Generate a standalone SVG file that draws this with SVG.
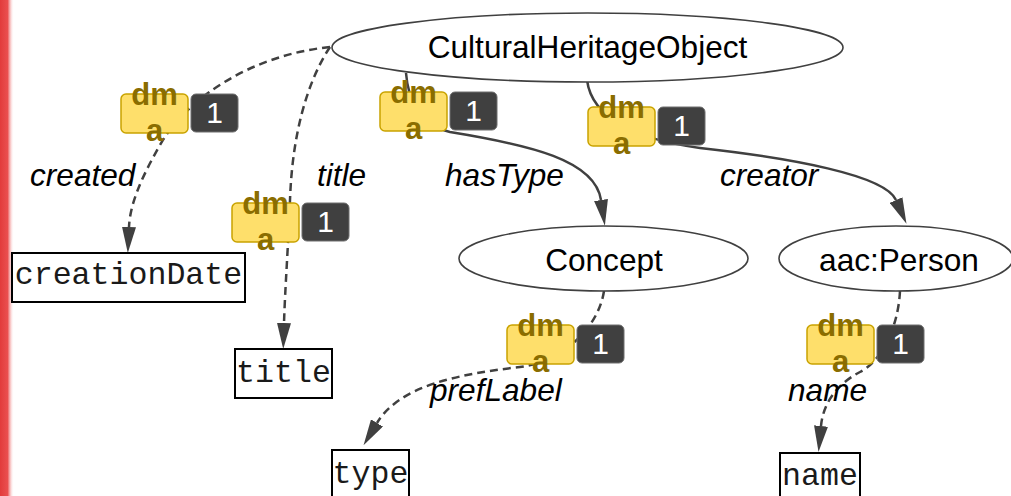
<svg xmlns="http://www.w3.org/2000/svg" width="1011" height="496" viewBox="0 0 1011 496">
<defs>
  <linearGradient id="stripe" x1="0" y1="0" x2="1" y2="0">
    <stop offset="0" stop-color="#e23b3b"/>
    <stop offset="0.55" stop-color="#ea4f4f"/>
    <stop offset="1" stop-color="#ffffff" stop-opacity="0"/>
  </linearGradient>
  <marker id="arrow" viewBox="0 0 26 14" refX="0" refY="7" markerWidth="26" markerHeight="14" markerUnits="userSpaceOnUse" orient="auto">
    <path d="M0,0 L26,7 L0,14 Z" fill="#404040"/>
  </marker>
  <g id="badge">
    <rect x="0" y="0" width="67" height="39" rx="5" fill="#fedf6b" stroke="#c9a300" stroke-width="1.5"/>
    <rect x="70" y="0" width="47" height="38" rx="5" fill="#404040" stroke="#6e6e6e" stroke-width="1"/>
    <text class="bt" x="33.5" y="11">dm</text>
    <text class="bt" x="33.5" y="47">a</text>
    <text class="one" x="93.5" y="29">1</text>
  </g>
</defs>
<style>
  .edge { fill: none; stroke: #404040; stroke-width: 2.5; }
  .dash { stroke-dasharray: 8 5; }
  .ell { fill: #ffffff; stroke: #404040; stroke-width: 1.6; }
  .box { fill: #ffffff; stroke: #000000; stroke-width: 2; }
  .ntext { font-family: "Liberation Sans", Arial, sans-serif; font-size: 31.6px; fill: #000000; text-anchor: middle; }
  .mono { font-family: "Liberation Mono", "Courier New", monospace; font-size: 31.6px; fill: #1a1a1a; text-anchor: middle; }
  .lbl { font-family: "Liberation Sans", Arial, sans-serif; font-size: 31.6px; font-style: italic; fill: #000000; }
  .bt { font-family: "Liberation Sans", Arial, sans-serif; font-size: 31px; font-weight: bold; fill: #8a6d00; text-anchor: middle; }
  .one { font-family: "Liberation Sans", Arial, sans-serif; font-size: 30px; fill: #ffffff; text-anchor: middle; }
</style>
<rect x="0" y="0" width="1011" height="496" fill="#ffffff"/>
<rect x="0" y="0" width="14" height="496" fill="url(#stripe)"/>

<g id="connectors">
  <path id="e-created" class="edge dash" d="M330,47 C250,55 185,100 160,145 C140,180 130,205 129,227" marker-end="url(#arrow)"/>
  <path id="e-title" class="edge dash" d="M330,47 C305,85 292,140 290,200 C288,250 285,290 284,323" marker-end="url(#arrow)"/>
  <path id="e-hasType" class="edge" d="M406,73 C408,100 420,125 450,132 C530,145 595,160 601,200" marker-end="url(#arrow)"/>
  <path id="e-creator" class="edge" d="M587,80 C592,120 640,140 700,148 C790,158 885,175 896,200" marker-end="url(#arrow)"/>
  <path id="e-prefLabel" class="edge dash" d="M604,291 C598,330 560,362 520,367 C460,374 400,385 377,423" marker-end="url(#arrow)"/>
  <path id="e-name" class="edge dash" d="M900,291 C898,330 880,362 860,372 C835,385 823,405 821,426" marker-end="url(#arrow)"/>
</g>

<g id="node-cho">
  <ellipse class="ell" cx="587.5" cy="47.5" rx="255.5" ry="34.5"/>
  <text class="ntext" x="587.5" y="58">CulturalHeritageObject</text>
</g>
<g id="node-concept">
  <ellipse class="ell" cx="603.5" cy="258.5" rx="144.5" ry="32.5"/>
  <text class="ntext" x="604" y="271">Concept</text>
</g>
<g id="node-person">
  <ellipse class="ell" cx="896" cy="258.5" rx="117" ry="32.5"/>
  <text class="ntext" x="899" y="271">aac:Person</text>
</g>
<g id="node-creationDate">
  <rect class="box" x="12" y="253" width="233" height="49"/>
  <text class="mono" x="128.5" y="284">creationDate</text>
</g>
<g id="node-title">
  <rect class="box" x="235" y="349" width="97" height="49"/>
  <text class="mono" x="283.5" y="382">title</text>
</g>
<g id="node-type">
  <rect class="box" x="332" y="450" width="77" height="49"/>
  <text class="mono" x="370.5" y="483">type</text>
</g>
<g id="node-name">
  <rect class="box" x="780" y="453" width="80" height="49"/>
  <text class="mono" x="820" y="485">name</text>
</g>

<g id="edge-badges">
  <use href="#badge" x="121" y="94"/>
  <use href="#badge" x="232" y="203"/>
  <use href="#badge" x="380" y="92"/>
  <use href="#badge" x="588" y="107"/>
  <use href="#badge" x="507" y="325"/>
  <use href="#badge" x="807" y="325"/>
</g>

<g id="edge-labels">
  <text class="lbl" x="30" y="186">created</text>
  <text class="lbl" x="317" y="186">title</text>
  <text class="lbl" x="445" y="186">hasType</text>
  <text class="lbl" x="720" y="186">creator</text>
  <text class="lbl" x="430" y="401">prefLabel</text>
  <text class="lbl" x="788" y="401">name</text>
</g>
</svg>
